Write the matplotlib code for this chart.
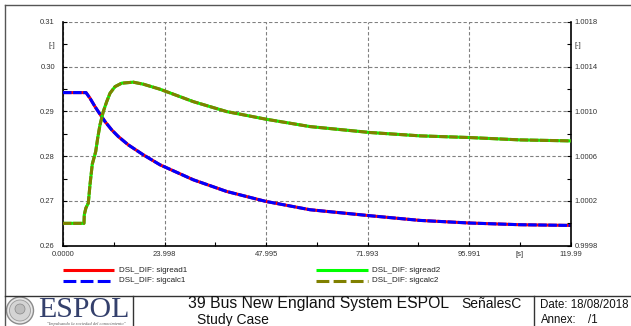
import matplotlib
matplotlib.use('Agg')
import matplotlib.pyplot as plt
from matplotlib.lines import Line2D
from matplotlib.patches import Circle

plt.rcParams['font.family'] = ['Liberation Sans', 'DejaVu Sans']

W, H = 631, 326

# ---- data ----
t_sig1 = [0.0, 5.44, 6.38, 7.56, 8.74, 9.93, 11.51, 13.07, 15.43, 18.98, 22.93,
          30.80, 38.69, 47.98, 58.38, 72.56, 84.4, 96.1, 108.0, 119.99]
sigread1 = [0.29422, 0.29422, 0.29297, 0.29109, 0.28940, 0.28775, 0.28589, 0.28440,
            0.28254, 0.28031, 0.27808, 0.27473, 0.27212, 0.26989, 0.26804, 0.26670,
            0.26565, 0.26507, 0.26469, 0.26453]
sigcalc1 = list(sigread1)

t_sig2 = [0.0, 4.96, 5.03, 5.41, 5.98, 6.38, 6.92, 7.73, 8.20, 8.74, 9.52, 10.33,
          11.11, 12.29, 13.87, 16.61, 18.98, 22.93, 30.80, 38.69, 47.98, 58.38,
          72.56, 84.4, 96.1, 108.0, 119.99]
sigread2 = [1.00000, 1.00000, 1.000077, 1.000137, 1.000181, 1.000345, 1.000529,
            1.000642, 1.000762, 1.000880, 1.000999, 1.001088, 1.001163, 1.001222,
            1.001253, 1.001262, 1.001244, 1.001199, 1.001088, 1.000999, 1.000931,
            1.000865, 1.000812, 1.000782, 1.000767, 1.000746, 1.000737]
sigcalc2 = list(sigread2)

labels = ['DSL_DIF: sigread1', 'DSL_DIF: sigcalc1', 'DSL_DIF: sigread2', 'DSL_DIF: sigcalc2']

x_major = [0.0, 23.998, 47.995, 71.993, 95.991, 119.99]
x_major_labels = ['0.0000', '23.998', '47.995', '71.993', '95.991', '119.99']
x_minor = [11.999, 35.997, 59.994, 83.992, 107.99]
x_minor_labels = ['', '', '', '', '[s]']

yl_major = [0.26, 0.27, 0.28, 0.29, 0.30, 0.31]
yl_major_labels = ['0.26', '0.27', '0.28', '0.29', '0.30', '0.31']
yl_minor = [0.265, 0.275, 0.285, 0.295, 0.305]
yl_minor_labels = ['', '', '', '', '[-]']

yr_major = [0.9998, 1.0002, 1.0006, 1.0010, 1.0014, 1.0018]
yr_major_labels = ['0.9998', '1.0002', '1.0006', '1.0010', '1.0014', '1.0018']
yr_minor = [1.0000, 1.0004, 1.0008, 1.0012, 1.0016]
yr_minor_labels = ['', '', '', '', '[-]']

RED, BLUE, GREEN, OLIVE = '#ff0000', '#0000ff', '#00ff00', '#808000'

fig = plt.figure(figsize=(W / 100, H / 100), dpi=100)
fig.patch.set_facecolor('white')

# background overlay in pixel coordinates
bg = fig.add_axes([0, 0, 1, 1])
bg.set_xlim(0, W)
bg.set_ylim(H, 0)
bg.axis('off')

frame_c = '#555555'
bg.plot([5, 5], [5, H], color=frame_c, lw=1.0)
bg.plot([5, W], [5, 5], color=frame_c, lw=1.0)
bg.plot([5, W], [295.7, 295.7], color='#333333', lw=1.0)
bg.plot([133.3, 133.3], [295.7, H], color='#333333', lw=1.0)
bg.plot([534.3, 534.3], [295.7, H], color='#333333', lw=1.0)

# logo
bg.add_patch(Circle((20, 310.5), 13.5, facecolor='#e6e6e6', edgecolor='#8a8a8a', lw=1.0))
bg.add_patch(Circle((20, 310.5), 10.5, facecolor='#d4d4d4', edgecolor='#9a9a9a', lw=0.6))
bg.add_patch(Circle((20, 309), 5, facecolor='#bdbdbd', edgecolor='#888888', lw=0.5))
bg.text(83.5, 310, 'ESPOL', family=['Liberation Serif', 'DejaVu Serif'], fontsize=21.5,
        color='#34406c', ha='center', va='center')
bg.text(86, 323.5, '"Impulsando la sociedad del conocimiento"',
        family=['Liberation Serif', 'DejaVu Serif'], style='italic', fontsize=3.2,
        color='#555555', ha='center', va='center')

# title block text
bg.text(187.7, 303.5, '39 Bus New England System ESPOL', fontsize=11.3, ha='left', va='center', color='#111111')
bg.text(461.7, 304, 'SeñalesC', fontsize=10, ha='left', va='center', color='#111111')
bg.text(196.7, 320, 'Study Case', fontsize=10, ha='left', va='center', color='#111111')
bg.text(540.5, 305, 'Date: 18/08/2018', fontsize=8.3, ha='left', va='center', color='#111111')
bg.text(540.5, 320, 'Annex:', fontsize=8.3, ha='left', va='center', color='#111111')
bg.text(587.5, 320, '/1', fontsize=8.3, ha='left', va='center', color='#111111')

# legend (manual, figure pixel coords)
leg_fs = 5.8
lg = [(62.7, 114.3, 270.3, RED, '-', labels[0], 119.3),
      (62.7, 114.3, 281.0, BLUE, '--', labels[1], 119.3),
      (316.0, 367.5, 270.3, GREEN, '-', labels[2], 372.5),
      (316.0, 367.5, 281.0, OLIVE, '--', labels[3], 372.5)]
for x0, x1, y, c, ls, lab, xt in lg:
    ln = Line2D([x0, x1], [y, y], color=c, lw=2.2, solid_capstyle='butt', dash_capstyle='butt')
    if ls == '--':
        ln.set_dashes((4.2, 1.4))
    bg.add_line(ln)
    bg.text(xt, y, lab, fontsize=leg_fs, ha='left', va='center', color='#222222')

# main axes
L, R, T, B = 63.0, 570.7, 22.0, 245.7
ax = fig.add_axes([L / W, 1 - B / H, (R - L) / W, (B - T) / H])
ax.patch.set_alpha(0)
ax.set_xlim(0, 119.99)
ax.set_ylim(0.26, 0.31)
ax2 = ax.twinx()
ax2.set_ylim(0.9998, 1.0018)

lw = 2.2
ax.plot(t_sig1, sigread1, color=RED, lw=lw, solid_joinstyle='round', zorder=3)
l1, = ax.plot(t_sig1, sigcalc1, color=BLUE, lw=lw, zorder=4)
l1.set_dashes((2.8, 0.5))
ax2.plot(t_sig2, sigread2, color=GREEN, lw=lw, solid_joinstyle='round', zorder=3)
l2, = ax2.plot(t_sig2, sigcalc2, color=OLIVE, lw=lw, zorder=4)
l2.set_dashes((2.8, 0.5))

tick_c = '#333333'
ax.set_xticks(x_major, x_major_labels)
ax.set_xticks(x_minor, x_minor_labels, minor=True)
ax.set_yticks(yl_major, yl_major_labels)
ax.set_yticks(yl_minor, yl_minor_labels, minor=True)
ax2.set_yticks(yr_major, yr_major_labels)
ax2.set_yticks(yr_minor, yr_minor_labels, minor=True)

for a in (ax, ax2):
    a.tick_params(which='both', direction='in', length=3, width=0.8, labelsize=5.5,
                  labelcolor=tick_c, color='black')
ax.tick_params(axis='y', which='both', pad=5.8, right=False)
ax.tick_params(axis='x', which='both', pad=4.0, top=False)
ax2.tick_params(axis='y', which='both', pad=3.0, left=False)

ax.grid(True, which='major', color='#808080', lw=0.8, linestyle=(0, (3, 2)))
ax.set_axisbelow(True)

for a in (ax, ax2):
    a.spines['top'].set_visible(False)
    for s in ('left', 'right', 'bottom'):
        a.spines[s].set_color('black')
        a.spines[s].set_linewidth(1.2)
ax.spines['right'].set_visible(False)
ax2.spines['left'].set_visible(False)
ax2.spines['bottom'].set_visible(False)

fig.savefig('out.png', dpi=100)
